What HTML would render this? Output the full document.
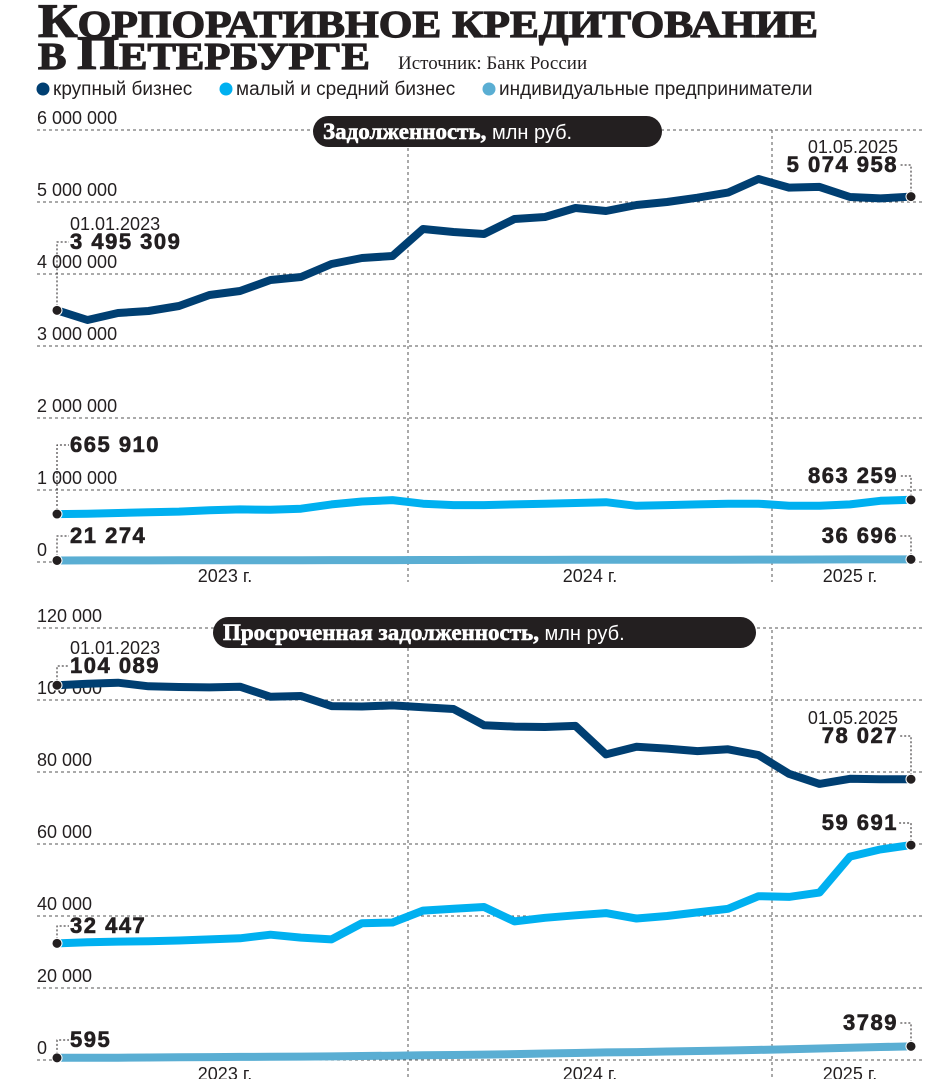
<!DOCTYPE html>
<html><head><meta charset="utf-8"><style>
html,body{margin:0;padding:0;background:#fff;}
svg{display:block;font-family:"Liberation Sans",sans-serif;}
</style></head><body>
<svg id="chart" width="930" height="1079" viewBox="0 0 930 1079" xmlns="http://www.w3.org/2000/svg">
<text x="38" y="37" font-family="Liberation Serif,serif" font-weight="bold" fill="#231f20" stroke="#231f20" stroke-width="1.2" textLength="780" lengthAdjust="spacingAndGlyphs"><tspan font-size="48">К</tspan><tspan font-size="38">ОРПОРАТИВНОЕ КРЕДИТОВАНИЕ</tspan></text>
<text x="38" y="69" font-family="Liberation Serif,serif" font-weight="bold" fill="#231f20" stroke="#231f20" stroke-width="1.2" textLength="332" lengthAdjust="spacingAndGlyphs"><tspan font-size="38">В </tspan><tspan font-size="48">П</tspan><tspan font-size="38">ЕТЕРБУРГЕ</tspan></text>
<text x="398" y="69" font-family="Liberation Serif,serif" font-size="19" fill="#231f20">Источник: Банк России</text>
<g font-size="19" fill="#231f20">
<circle cx="43" cy="89" r="6.5" fill="#003f72"/><text x="53" y="95">крупный бизнес</text>
<circle cx="226" cy="89" r="6.5" fill="#00b0f0"/><text x="236" y="95">малый и средний бизнес</text>
<circle cx="489" cy="89" r="6.5" fill="#5aaed3"/><text x="499" y="95">индивидуальные предприниматели</text>
</g>
<g id="g1"></g><g id="g2"></g>
</svg>
<script>
const months = ['01.2023','02.2023','03.2023','04.2023','05.2023','06.2023','07.2023','08.2023','09.2023','10.2023','11.2023','12.2023','01.2024','02.2024','03.2024','04.2024','05.2024','06.2024','07.2024','08.2024','09.2024','10.2024','11.2024','12.2024','01.2025','02.2025','03.2025','04.2025','05.2025'];
// debt, thousand mln rub
const debtLarge = [3495.3,3361,3458,3486,3556,3708,3764,3917,3958,4139,4222,4250,4625,4583,4556,4764,4792,4917,4875,4958,5000,5060,5130,5320,5200,5210,5070,5050,5075];
const debtSme = [665.9,670,680,690,700,720,730,725,740,800,840,860,810,790,790,800,810,820,830,780,790,800,810,810,780,780,800,850,863.3];
const debtInd = [21.3,21.8,22.3,22.8,23.3,23.8,24.3,24.8,25.3,25.8,26.3,26.8,27.5,28,28.5,29,29.5,30,30.5,31,31.5,32,32.5,33,33.5,34.5,35.5,36.2,36.7];
const debtTicks = ['0','1 000 000','2 000 000','3 000 000','4 000 000','5 000 000','6 000 000'];
// overdue, thousand mln rub
const odLarge = [104.1,104.5,104.8,103.8,103.6,103.5,103.7,100.9,101.1,98.3,98.2,98.5,98.0,97.5,93.0,92.6,92.5,92.8,84.9,87.0,86.5,85.8,86.3,84.7,79.5,76.7,78.1,78.0,78.0];
const odSme = [32.4,32.7,32.9,33.0,33.2,33.5,33.8,34.8,34.0,33.5,38.0,38.2,41.5,42.0,42.5,38.5,39.5,40.2,40.8,39.3,40.0,41.0,42.0,45.5,45.3,46.5,56.5,58.5,59.7];
const odInd = [0.6,0.62,0.65,0.7,0.75,0.8,0.85,0.9,0.95,1.0,1.1,1.2,1.3,1.4,1.5,1.65,1.8,1.95,2.1,2.2,2.35,2.5,2.65,2.8,3.0,3.2,3.4,3.6,3.79];
const odTicks = ['0','20 000','40 000','60 000','80 000','100 000','120 000'];
const years = ['2023 г.','2024 г.','2025 г.'];

const NS='http://www.w3.org/2000/svg';
function mk(parent,tag,attrs,text){const e=document.createElementNS(NS,tag);for(const k in attrs)e.setAttribute(k,attrs[k]);if(text!==undefined)e.textContent=text;parent.appendChild(e);return e;}
const x0=57,x1=911;
const xs=i=>x0+i*(x1-x0)/(months.length-1);

function chart(g,cfg){
  const y=v=>cfg.zero-v/cfg.unit*72;
  cfg.ticks.forEach((t,i)=>{
    const yy=cfg.zero-i*72;
    const l=mk(g,'line',{x1:37,x2:925,y1:yy,y2:yy,stroke:'#555','stroke-width':1,'stroke-dasharray':'3,3'});
    
    
    const tx=mk(g,'text',{x:37,y:yy-6,'font-size':18,fill:'#231f20'},t);
    
    
  });
  [408,772].forEach(vx=>{
    const l=mk(g,'line',{x1:vx,x2:vx,y1:cfg.top,y2:cfg.bottom,stroke:'#555','stroke-width':1,'stroke-dasharray':'3,3'});
    
    
  });
  const yx=[225,590,850];
  years.forEach((t,i)=>{
    const tx=mk(g,'text',{x:yx[i],y:cfg.zero+20,'font-size':18,'text-anchor':'middle',fill:'#231f20'},t);
    
    
  });
  const p=mk(g,'g',{});
  
  
  mk(p,'rect',{x:cfg.pill[0],y:cfg.pill[1],width:cfg.pill[2],height:31,rx:15.5,fill:'#231f20'});
  const pt=mk(p,'text',{x:cfg.pill[0]+10,y:cfg.pill[1]+23,'font-size':20,fill:'#fff'});
  mk(pt,'tspan',{'font-family':'Liberation Serif,serif','font-weight':'bold','font-size':23,stroke:'#fff','stroke-width':0.6},cfg.title);
  mk(pt,'tspan',{},' млн руб.');
  const series=[[cfg.ind,'#5aaed3','series-individual'],[cfg.sme,'#00b0f0','series-sme'],[cfg.large,'#003f72','series-large']];
  series.forEach(([arr,c,name])=>{
    const d=arr.map((v,i)=>(i?'L':'M')+xs(i).toFixed(1)+','+y(v).toFixed(1)).join('');
    const pa=mk(g,'path',{d:d,fill:'none',stroke:c,'stroke-width':8,'stroke-linejoin':'round'});
    
    
  });
  cfg.ann.forEach(a=>{
    const arr=a.arr, i=a.end?arr.length-1:0;
    const px=xs(i),py=y(arr[i]);
    const ly=a.ly;
    const hx=a.end?px-12:px+12;
    mk(g,'path',{d:`M${px},${py}L${px},${ly}L${hx},${ly}`,fill:'none',stroke:'#231f20','stroke-width':1,'stroke-dasharray':'2,2'});
    const dot=mk(g,'circle',{cx:px,cy:py,r:5,fill:'#231f20',stroke:'#fff','stroke-width':1});
    
    
    const anchor=a.end?'end':'start';
    const tx=a.end?px-13:px+13;
    const vt=mk(g,'text',{x:tx,y:ly+7,'font-size':22,'font-weight':'bold','text-anchor':anchor,fill:'#231f20',stroke:'#231f20','stroke-width':0.6,'letter-spacing':'1.5'},a.label);
    
    
    if(a.date){
      const dt=mk(g,'text',{x:tx,y:ly-12,'font-size':18,'text-anchor':anchor,fill:'#231f20'},a.date);
      
      
    }
  });
}
chart(document.getElementById('g1'),{zero:562,unit:1000,top:130,bottom:582,ticks:debtTicks,large:debtLarge,sme:debtSme,ind:debtInd,title:'Задолженность,',pill:[313,116,349],
 ann:[{arr:debtLarge,end:false,ly:242,label:'3 495 309',date:'01.01.2023'},{arr:debtLarge,end:true,ly:165,label:'5 074 958',date:'01.05.2025'},
 {arr:debtSme,end:false,ly:445,label:'665 910'},{arr:debtSme,end:true,ly:476,label:'863 259'},
 {arr:debtInd,end:false,ly:536,label:'21 274'},{arr:debtInd,end:true,ly:536,label:'36 696'}]});
chart(document.getElementById('g2'),{zero:1060,unit:20,top:630,bottom:1079,ticks:odTicks,large:odLarge,sme:odSme,ind:odInd,title:'Просроченная задолженность,',pill:[213,617,543],
 ann:[{arr:odLarge,end:false,ly:666,label:'104 089',date:'01.01.2023'},{arr:odLarge,end:true,ly:736,label:'78 027',date:'01.05.2025'},
 {arr:odSme,end:false,ly:926,label:'32 447'},{arr:odSme,end:true,ly:823,label:'59 691'},
 {arr:odInd,end:false,ly:1040,label:'595'},{arr:odInd,end:true,ly:1023,label:'3789'}]});
</script>
</body></html>
